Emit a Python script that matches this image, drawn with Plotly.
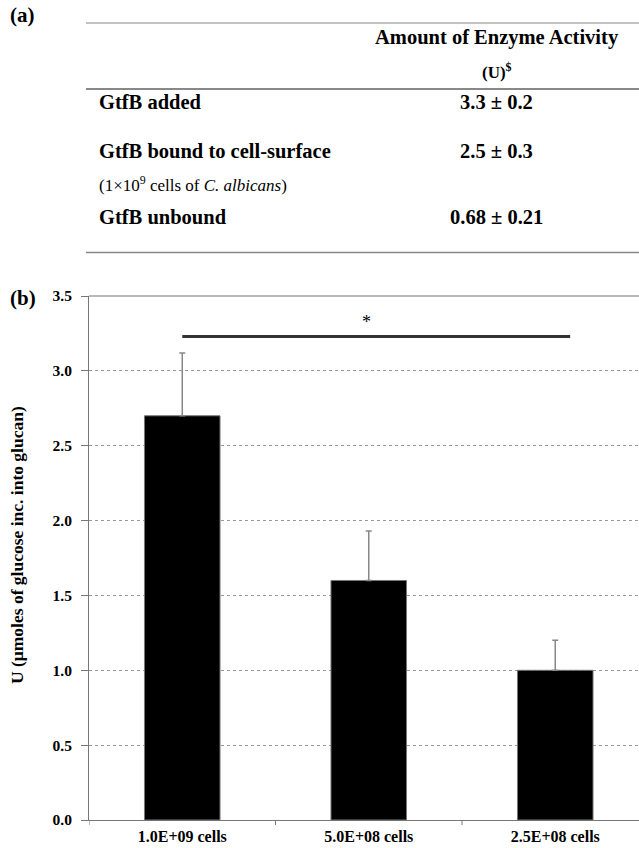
import plotly.graph_objects as go

# ---- data ----
categories = ["1.0E+09 cells", "5.0E+08 cells", "2.5E+08 cells"]
activity = [2.70, 1.60, 1.00]
activity_err = [0.42, 0.33, 0.20]
y_ticks = [0.0, 0.5, 1.0, 1.5, 2.0, 2.5, 3.0, 3.5]

table_rows = ["GtfB added", "GtfB bound to cell-surface", "GtfB unbound"]
table_values = ["3.3 ± 0.2", "2.5 ± 0.3", "0.68 ± 0.21"]
table_header = ["Amount of Enzyme Activity", "(U)<sup>$</sup>"]
table_note = "(1×10<sup>9</sup> cells of <i>C. albicans</i>)"

sig_y = 3.23
sig_x = [0, 2.08]

# ---- geometry ----
W, H = 639, 848
L, R, T, B = 89, 0, 296, 28
pw, ph = W - L - R, H - T - B
cat_w = 186.5

def px(x):
    return (x - L) / pw

def py(y):
    return (H - B - y) / ph

FONT = "Liberation Serif, Times New Roman, serif"

fig = go.Figure()
fig.add_trace(go.Bar(
    x=list(range(len(categories))), y=activity, width=0.405,
    marker=dict(color="black", line=dict(color="#777", width=1)),
    error_y=dict(type="data", symmetric=False, array=activity_err,
                 arrayminus=[0] * len(activity), color="#888",
                 thickness=1.5, width=3),
    showlegend=False, hoverinfo="skip",
))

xr1 = (W - L) / cat_w - 0.5
fig.update_xaxes(
    range=[-0.5, xr1], tickmode="array", tickvals=list(range(len(categories))),
    ticktext=categories, showgrid=False, showline=True, linecolor="#777",
    linewidth=1, ticks="", zeroline=False, ticklabelstandoff=2,
    tickfont=dict(family=FONT, size=16, color="black", weight="bold"),
)
# boundary ticks
for b in [-0.5, 0.5, 1.5]:
    fig.add_shape(type="line", xref="x", yref="paper", x0=b, x1=b,
                  y0=0, y1=-5 / ph, line=dict(color="#777", width=1))

fig.update_yaxes(
    range=[0, 3.5], tickvals=y_ticks, ticktext=[f"{v:.1f}" for v in y_ticks],
    showgrid=True, gridcolor="#999", griddash="dot", gridwidth=1,
    showline=True, linecolor="#777", linewidth=1, ticks="outside",
    ticklen=7, tickcolor="#777", zeroline=False, ticklabelstandoff=6,
    tickfont=dict(family=FONT, size=15.5, color="black", weight="bold"),
)

# top border of plot
fig.add_shape(type="line", xref="paper", yref="paper", x0=0, x1=1, y0=1, y1=1,
              line=dict(color="#777", width=1.2))

# significance line and star
fig.add_shape(type="line", xref="x", yref="y", x0=sig_x[0], x1=sig_x[1],
              y0=sig_y, y1=sig_y, line=dict(color="#333", width=3))
fig.add_annotation(x=(sig_x[0] + sig_x[1]) / 2 - 0.05, y=sig_y, yshift=14,
                   text="*", showarrow=False,
                   font=dict(family=FONT, size=18, color="black"))

ann = []
def txt(x, y, s, size, anchor="center", bold=True, angle=0):
    ann.append(dict(xref="paper", yref="paper", x=px(x), y=py(y),
                    text=s, showarrow=False,
                    xanchor=anchor, yanchor="middle", textangle=angle,
                    font=dict(family=FONT, size=size, color="black",
                              weight="bold" if bold else "normal")))

txt(8, 15, "(a)", 21, "left")
txt(8, 298, "(b)", 21, "left")
txt(497, 37, table_header[0], 20.5)
txt(497, 71, table_header[1], 17)
for i, (r, v) in enumerate(zip(table_rows, table_values)):
    yy = [102, 151, 217][i]
    txt(97, yy, r, 20.5, "left")
    txt(496, yy, v, 20.5)
txt(97, 184, table_note, 17, "left", bold=False)
txt(17, 545, "U (μmoles of glucose inc. into glucan)", 17.5, angle=-90)
for a in ann:
    fig.add_annotation(**a)

for yy, w in [(23, 1.2), (89, 2), (252.5, 1.5)]:
    fig.add_shape(type="line", xref="paper", yref="paper", x0=px(86), x1=px(W),
                  y0=py(yy), y1=py(yy), line=dict(color="#888", width=w))

fig.update_layout(
    width=W, height=H, margin=dict(l=L, r=R, t=T, b=B, autoexpand=False),
    plot_bgcolor="white", paper_bgcolor="white", bargap=0.6,
    hovermode=False,
)

fig.write_html("out.html", config={"displayModeBar": False},
               post_script="document.body.style.margin='0px';")
